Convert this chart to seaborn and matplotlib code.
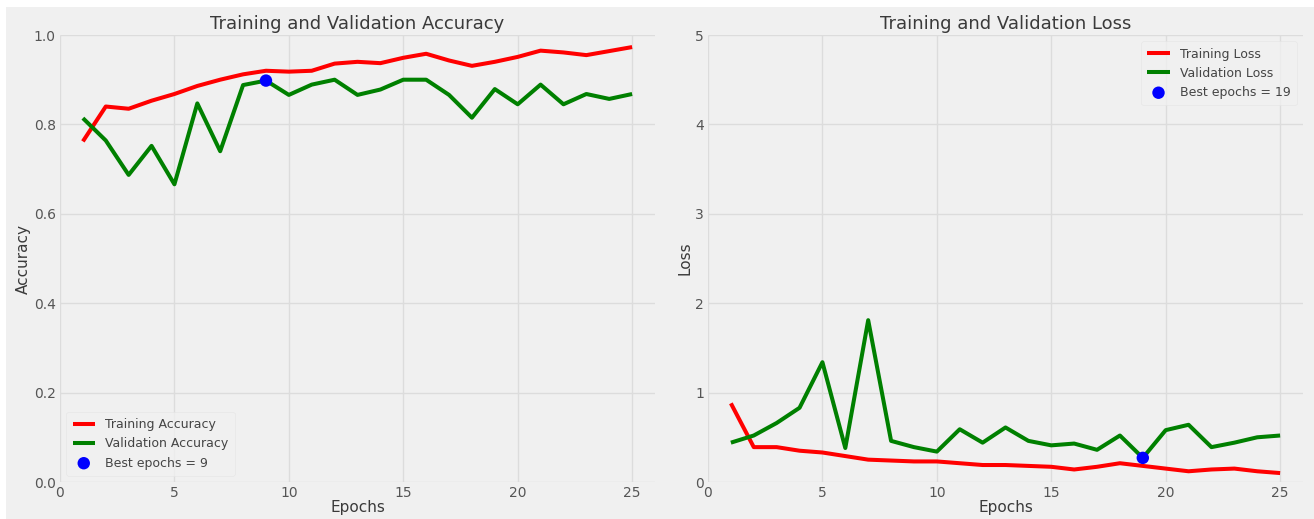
import matplotlib
matplotlib.use("Agg")
import matplotlib.pyplot as plt
from matplotlib.patches import Rectangle
import seaborn as sns
import pandas as pd

# Per-epoch training history
epochs = list(range(1, 26))
train_acc = [0.762, 0.840, 0.835, 0.853, 0.868, 0.886, 0.900, 0.912, 0.920, 0.918,
             0.920, 0.936, 0.940, 0.937, 0.949, 0.958, 0.943, 0.931, 0.940, 0.951,
             0.965, 0.961, 0.955, 0.964, 0.973]
val_acc = [0.814, 0.764, 0.687, 0.752, 0.666, 0.847, 0.740, 0.888, 0.898, 0.866,
           0.889, 0.900, 0.866, 0.878, 0.900, 0.900, 0.866, 0.815, 0.879, 0.845,
           0.889, 0.845, 0.868, 0.857, 0.868]
train_loss = [0.88, 0.39, 0.39, 0.35, 0.33, 0.29, 0.25, 0.24, 0.23, 0.23,
              0.21, 0.19, 0.19, 0.18, 0.17, 0.14, 0.17, 0.21, 0.18, 0.15,
              0.12, 0.14, 0.15, 0.12, 0.10]
val_loss = [0.44, 0.52, 0.66, 0.83, 1.34, 0.38, 1.81, 0.46, 0.39, 0.34,
            0.59, 0.44, 0.61, 0.46, 0.41, 0.43, 0.36, 0.52, 0.27, 0.58,
            0.64, 0.39, 0.44, 0.50, 0.52]
best_acc_epoch = 9
best_loss_epoch = 19

plt.style.use("fivethirtyeight")
sns.set_style({"axes.facecolor": "#f0f0f0", "grid.color": "#dcdcdc"})
plt.rcParams["font.family"] = ["DejaVu Sans"]
plt.rcParams["text.color"] = "#3a3a3a"
plt.rcParams["axes.labelcolor"] = "#3a3a3a"
plt.rcParams["xtick.color"] = "#555555"
plt.rcParams["ytick.color"] = "#555555"

hist = pd.DataFrame({"epoch": epochs, "train_acc": train_acc, "val_acc": val_acc,
                     "train_loss": train_loss, "val_loss": val_loss})

W, H = 1314, 519
fig = plt.figure(figsize=(W / 100, H / 100), dpi=100, facecolor="white")
fig.patches.append(Rectangle((6 / W, 0), 1, 1 - 7 / H, transform=fig.transFigure,
                             facecolor="#f0f0f0", edgecolor="none", zorder=-10))

ax1 = fig.add_axes([60 / W, 1 - 482 / H, 595 / W, 447 / H])
ax2 = fig.add_axes([708 / W, 1 - 482 / H, 595 / W, 447 / H])


def panel(ax, train_col, val_col, best_epoch, names, title, ylabel, ylim, loc):
    sns.lineplot(data=hist, x="epoch", y=train_col, ax=ax, color="red",
                 linewidth=2.9, label=names[0])
    sns.lineplot(data=hist, x="epoch", y=val_col, ax=ax, color="green",
                 linewidth=2.9, label=names[1])
    best = hist[hist["epoch"] == best_epoch]
    sns.scatterplot(data=best, x="epoch", y=val_col, ax=ax, color="blue", s=80,
                    edgecolor="none", zorder=5, label=f"Best epochs = {best_epoch}")
    ax.set_title(title, fontsize=13, pad=4)
    ax.set_xlabel("Epochs", fontsize=11, labelpad=0)
    ax.set_ylabel(ylabel, fontsize=11, labelpad=2)
    ax.set_xlim(0, 26)
    ax.set_ylim(*ylim)
    ax.set_xticks([0, 5, 10, 15, 20, 25])
    ax.tick_params(labelsize=10, length=0, pad=3)
    for s in ax.spines.values():
        s.set_visible(False)
    ax.grid(True, color="#dcdcdc", linewidth=1)
    ax.set_facecolor("#f0f0f0")
    leg = ax.legend(loc=loc, fontsize=9, frameon=True, handlelength=1.8,
                    borderpad=0.5, labelspacing=0.5)
    leg.get_frame().set_facecolor("#f0f0f0")
    leg.get_frame().set_edgecolor("#e4e4e4")
    for t in leg.get_texts():
        t.set_color("#444444")


panel(ax1, "train_acc", "val_acc", best_acc_epoch,
      ["Training Accuracy", "Validation Accuracy"],
      "Training and Validation Accuracy", "Accuracy", (0, 1.0), "lower left")
panel(ax2, "train_loss", "val_loss", best_loss_epoch,
      ["Training Loss", "Validation Loss"],
      "Training and Validation Loss", "Loss", (0, 5), "upper right")
ax2.set_yticks([0, 1, 2, 3, 4, 5])

fig.savefig("out.png", dpi=100, facecolor=fig.get_facecolor())
